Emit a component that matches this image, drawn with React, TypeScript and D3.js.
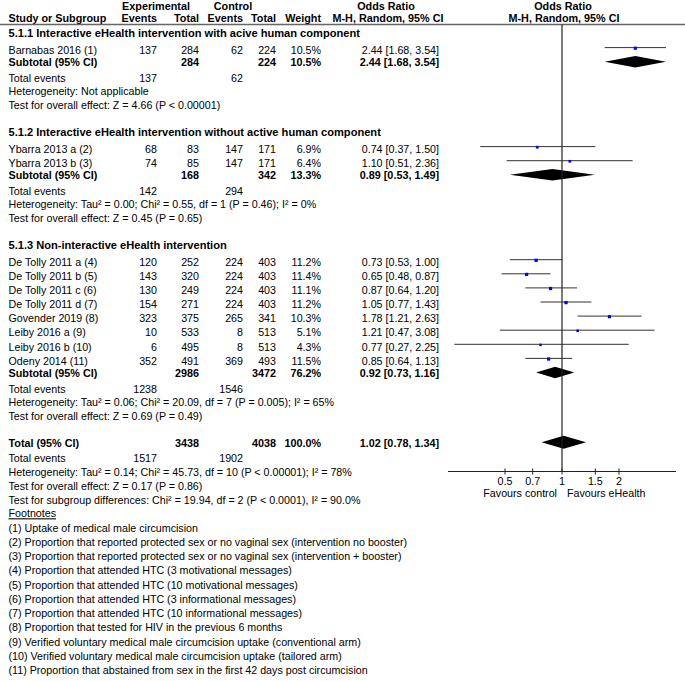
import React from "react";
import * as d3 from "d3";

// ---------- data ----------
const groupTitles = [
  "5.1.1 Interactive eHealth intervention with acive human component",
  "5.1.2 Interactive eHealth intervention without active human component",
  "5.1.3 Non-interactive eHealth intervention",
];
const studyNames = [
  "Barnabas 2016 (1)",
  "Ybarra 2013 a (2)",
  "Ybarra 2013 b (3)",
  "De Tolly 2011 a (4)",
  "De Tolly 2011 b (5)",
  "De Tolly 2011 c (6)",
  "De Tolly 2011 d (7)",
  "Govender 2019 (8)",
  "Leiby 2016 a (9)",
  "Leiby 2016 b (10)",
  "Odeny 2014 (11)",
];
const studyGroup = [0, 1, 1, 2, 2, 2, 2, 2, 2, 2, 2];
const expEvents = [137, 68, 74, 120, 143, 130, 154, 323, 10, 6, 352];
const expTotal = [284, 83, 85, 252, 320, 249, 271, 375, 533, 495, 491];
const ctrlEvents = [62, 147, 147, 224, 224, 224, 224, 265, 8, 8, 369];
const ctrlTotal = [224, 171, 171, 403, 403, 403, 403, 341, 513, 513, 493];
const weights = [10.5, 6.9, 6.4, 11.2, 11.4, 11.1, 11.2, 10.3, 5.1, 4.3, 11.5];
const orEst = [2.44, 0.74, 1.1, 0.73, 0.65, 0.87, 1.05, 1.78, 1.21, 0.77, 0.85];
const orLo = [1.68, 0.37, 0.51, 0.53, 0.48, 0.64, 0.77, 1.21, 0.47, 0.27, 0.64];
const orHi = [3.54, 1.5, 2.36, 1.0, 0.87, 1.2, 1.43, 2.63, 3.08, 2.25, 1.13];

const subExpTotal = [284, 168, 2986];
const subCtrlTotal = [224, 342, 3472];
const subWeight = ["10.5%", "13.3%", "76.2%"];
const subEst = [2.44, 0.89, 0.92];
const subLo = [1.68, 0.53, 0.73];
const subHi = [3.54, 1.49, 1.16];
const subExpEvents = [137, 142, 1238];
const subCtrlEvents = [62, 294, 1546];
const subHet = [
  "Heterogeneity: Not applicable",
  "Heterogeneity: Tau² = 0.00; Chi² = 0.55, df = 1 (P = 0.46); I² = 0%",
  "Heterogeneity: Tau² = 0.06; Chi² = 20.09, df = 7 (P = 0.005); I² = 65%",
];
const subTest = [
  "Test for overall effect: Z = 4.66 (P < 0.00001)",
  "Test for overall effect: Z = 0.45 (P = 0.65)",
  "Test for overall effect: Z = 0.69 (P = 0.49)",
];

const totalExpTotal = 3438;
const totalCtrlTotal = 4038;
const totalWeight = "100.0%";
const totalEst = 1.02;
const totalLo = 0.78;
const totalHi = 1.34;
const totalExpEvents = 1517;
const totalCtrlEvents = 1902;
const totalHet = "Heterogeneity: Tau² = 0.14; Chi² = 45.73, df = 10 (P < 0.00001); I² = 78%";
const totalTest = "Test for overall effect: Z = 0.17 (P = 0.86)";
const subgroupTest = "Test for subgroup differences: Chi² = 19.94, df = 2 (P < 0.0001), I² = 90.0%";

const footnotes = [
  "(1) Uptake of medical male circumcision",
  "(2) Proportion that reported protected sex or no vaginal sex (intervention no booster)",
  "(3) Proportion that reported protected sex or no vaginal sex (intervention + booster)",
  "(4) Proportion that attended HTC (3 motivational messages)",
  "(5) Proportion that attended HTC (10 motivational messages)",
  "(6) Proportion that attended HTC (3 informational messages)",
  "(7) Proportion that attended HTC (10 informational messages)",
  "(8) Proportion that tested for HIV in the previous 6 months",
  "(9) Verified voluntary medical male circumcision uptake (conventional arm)",
  "(10) Verified voluntary medical male circumcision uptake (tailored arm)",
  "(11) Proportion that abstained from sex in the first 42 days post circumcision",
];

const tickValues = [0.5, 0.7, 1, 1.5, 2];
const tickLabels = ["0.5", "0.7", "1", "1.5", "2"];
const axisDomain = [0.25, 4];
const favoursLeft = "Favours control";
const favoursRight = "Favours eHealth";

// ---------- layout ----------
const W = 685;
const H = 681;
const FONT = "'Liberation Sans', Arial, Helvetica, sans-serif";
const FS = 10.7;
const FSB = 10.8;
const FSH = 11.1;
const colLeft = 8.5;
const colExpEv = 157;
const colExpTot = 199;
const colCtrlEv = 243;
const colCtrlTot = 276;
const colWeight = 321;
const colOR = 439;
const headerLineY = 24.5;

const fmt2 = (v: number) => v.toFixed(2);
const ciText = (e: number, l: number, h: number) => `${fmt2(e)} [${fmt2(l)}, ${fmt2(h)}]`;

type Row = { kind: string; y: number; idx?: number; g?: number; text?: string };

function buildRows(): Row[] {
  const gaps: Record<string, number> = {
    study: 14.1,
    studyFirst: 16.9,
    subtotal: 12.4,
    events: 15.7,
    het: 13.4,
    test: 13.8,
    heading: 26.8,
    total: 26.8,
    subgroup: 13.9,
    fnLabel: 13.8,
    fn: 14.27,
  };
  const rows: Row[] = [];
  let y = 0;
  let prev = "";
  const push = (r: Omit<Row, "y">) => {
    if (rows.length === 0) y = 36.9;
    else if (r.kind === "study" && prev === "heading") y += gaps.studyFirst;
    else y += gaps[r.kind];
    rows.push({ ...r, y });
    prev = r.kind;
  };
  groupTitles.forEach((t, g) => {
    push({ kind: "heading", text: t, g });
    studyNames.forEach((_, i) => {
      if (studyGroup[i] === g) push({ kind: "study", idx: i });
    });
    push({ kind: "subtotal", g });
    push({ kind: "events", g });
    push({ kind: "het", text: subHet[g] });
    push({ kind: "test", text: subTest[g] });
  });
  push({ kind: "total" });
  push({ kind: "events", g: -1 });
  push({ kind: "het", text: totalHet });
  push({ kind: "test", text: totalTest });
  push({ kind: "subgroup", text: subgroupTest });
  push({ kind: "fnLabel", text: "Footnotes" });
  footnotes.forEach((f) => push({ kind: "fn", text: f }));
  return rows;
}

const x = d3.scaleLog().domain(axisDomain).range([448, 676]);

function Diamond({ est, lo, hi, cy, hh }: { est: number; lo: number; hi: number; cy: number; hh: number }) {
  const pts: [number, number][] = [
    [x(lo), cy],
    [x(est), cy - hh],
    [x(hi), cy],
    [x(est), cy + hh],
  ];
  return <path d={d3.line()(pts)! + "Z"} fill="#000" />;
}

export default function App() {
  const rows = buildRows();
  const totalRow = rows.find((r) => r.kind === "total")!;
  const axisY = totalRow.y + 24.8;
  const x1 = x(1);

  const T = ({ bold, size, ...props }: any) => (
    <text
      fontFamily={FONT}
      fontSize={size ?? (bold ? FSB : FS)}
      fontWeight={bold ? "bold" : "normal"}
      fill="#000"
      {...props}
    />
  );
  const R = (xx: number, y: number, s: any, bold = false) => (
    <T x={xx} y={y} textAnchor="end" bold={bold}>
      {s}
    </T>
  );

  const els: any[] = [];
  rows.forEach((r, k) => {
    const y = r.y;
    if (r.kind === "heading") {
      els.push(
        <T key={k} x={colLeft} y={y} bold size={FSH}>
          {r.text}
        </T>
      );
    } else if (r.kind === "study") {
      const i = r.idx!;
      const s = 2 + weights[i] / 9;
      const ly = y - 6.2;
      els.push(
        <g key={k}>
          <T x={colLeft} y={y}>{studyNames[i]}</T>
          {R(colExpEv, y, expEvents[i])}
          {R(colExpTot, y, expTotal[i])}
          {R(colCtrlEv, y, ctrlEvents[i])}
          {R(colCtrlTot, y, ctrlTotal[i])}
          {R(colWeight, y, weights[i].toFixed(1) + "%")}
          {R(colOR, y, ciText(orEst[i], orLo[i], orHi[i]))}
          <line x1={x(orLo[i])} x2={x(orHi[i])} y1={ly} y2={ly} stroke="#333" strokeWidth={1} />
          <rect x={x(orEst[i]) - s / 2} y={ly - s / 2 + 0.6} width={s} height={s} fill="#0000ff" />
        </g>
      );
    } else if (r.kind === "subtotal") {
      const g = r.g!;
      els.push(
        <g key={k}>
          <T x={colLeft} y={y} bold>Subtotal (95% CI)</T>
          {R(colExpTot, y, subExpTotal[g], true)}
          {R(colCtrlTot, y, subCtrlTotal[g], true)}
          {R(colWeight, y, subWeight[g], true)}
          {R(colOR, y, ciText(subEst[g], subLo[g], subHi[g]), true)}
          <Diamond est={subEst[g]} lo={subLo[g]} hi={subHi[g]} cy={y - 4.5} hh={5.8} />
        </g>
      );
    } else if (r.kind === "total") {
      els.push(
        <g key={k}>
          <T x={colLeft} y={y} bold>Total (95% CI)</T>
          {R(colExpTot, y, totalExpTotal, true)}
          {R(colCtrlTot, y, totalCtrlTotal, true)}
          {R(colWeight, y, totalWeight, true)}
          {R(colOR, y, ciText(totalEst, totalLo, totalHi), true)}
          <Diamond est={totalEst} lo={totalLo} hi={totalHi} cy={y - 4.5} hh={6.5} />
        </g>
      );
    } else if (r.kind === "events") {
      const g = r.g!;
      els.push(
        <g key={k}>
          <T x={colLeft} y={y}>Total events</T>
          {R(colExpEv, y, g >= 0 ? subExpEvents[g] : totalExpEvents)}
          {R(colCtrlEv, y, g >= 0 ? subCtrlEvents[g] : totalCtrlEvents)}
        </g>
      );
    } else if (r.kind === "fnLabel") {
      els.push(
        <T key={k} x={colLeft} y={y} textDecoration="underline">
          {r.text}
        </T>
      );
    } else {
      els.push(
        <T key={k} x={colLeft} y={y}>
          {r.text}
        </T>
      );
    }
  });

  return (
    <svg
      width={W}
      height={H}
      style={{ position: "absolute", left: 0, top: 0, background: "#fff" }}
    >
      <rect width={W} height={H} fill="#fff" />
      {/* headers */}
      <T x={156} y={9.8} textAnchor="middle" bold>Experimental</T>
      <T x={233} y={9.8} textAnchor="middle" bold>Control</T>
      <T x={386} y={9.8} textAnchor="middle" bold>Odds Ratio</T>
      <T x={x1 + 1} y={9.8} textAnchor="middle" bold>Odds Ratio</T>
      <T x={colLeft} y={22.3} bold>Study or Subgroup</T>
      {R(colExpEv, 22.3, "Events", true)}
      {R(colExpTot, 22.3, "Total", true)}
      {R(colCtrlEv, 22.3, "Events", true)}
      {R(colCtrlTot, 22.3, "Total", true)}
      {R(colWeight, 22.3, "Weight", true)}
      <T x={388} y={22.3} textAnchor="middle" bold>M-H, Random, 95% CI</T>
      <T x={x1 + 2} y={22.3} textAnchor="middle" bold>M-H, Random, 95% CI</T>
      <line x1={0} x2={W} y1={headerLineY} y2={headerLineY} stroke="#666" strokeWidth={1.3} />
      {els}
      {/* null line */}
      <line x1={x1} x2={x1} y1={headerLineY} y2={axisY} stroke="#222" strokeWidth={1.2} />
      {/* axis */}
      <line x1={x(axisDomain[0])} x2={x(axisDomain[1])} y1={axisY} y2={axisY} stroke="#222" strokeWidth={1} />
      {tickValues.map((v, i) => (
        <g key={i}>
          <line x1={x(v)} x2={x(v)} y1={axisY - 3} y2={axisY + 3} stroke="#222" strokeWidth={1} />
          <T x={x(v)} y={axisY + 13.2} textAnchor="middle">{tickLabels[i]}</T>
        </g>
      ))}
      <T x={x1 - 5} y={axisY + 25} textAnchor="end">{favoursLeft}</T>
      <T x={x1 + 5} y={axisY + 25} textAnchor="start">{favoursRight}</T>
    </svg>
  );
}
